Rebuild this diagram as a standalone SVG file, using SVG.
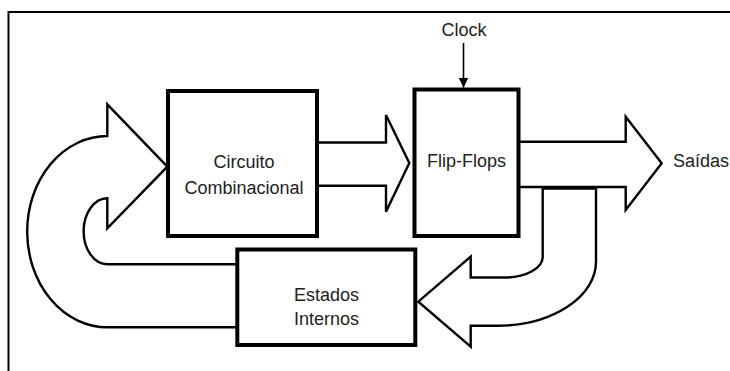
<svg xmlns="http://www.w3.org/2000/svg" width="730" height="371" viewBox="0 0 730 371">
<defs>
<style>
.frame{fill:none;stroke:#000;stroke-width:2}
.box{fill:#fff;stroke:#000;stroke-width:4}
.bus{fill:#fff;stroke:#000;stroke-width:2.4;stroke-linejoin:miter}
.lbl{font-family:"Liberation Sans",Arial,sans-serif;font-size:18px;fill:#222;text-anchor:middle}
.wire{stroke:#000;stroke-width:1.6;fill:none}
</style>
<marker id="ah" viewBox="0 0 10 10" refX="10" refY="5" markerWidth="10" markerHeight="10" markerUnits="userSpaceOnUse" orient="auto">
<path d="M0,0 L10,5 L0,10 Z" fill="#000"/>
</marker>
</defs>
<rect width="730" height="371" fill="#fff"/>
<path class="frame" d="M8.5,371 L8.5,12 L730,12"/>
<g id="connectors">
<path id="feedback-left" class="bus" d="M167.3,166.7 L107.3,104.3 L107.3,136 A80,95.5 0 0,0 107.3,327.3 L237.3,327.3 L237.3,264.3 L107.3,264.3 A23.7,33 0 0,1 107.3,198.3 L107.3,228.3 Z"/>
<path id="comb-to-ff" class="bus" d="M317,142.5 L386,142.5 L386,115 L409.3,163 L386,211.7 L386,185.7 L317,185.7 Z"/>
<path id="ff-to-out" class="bus" d="M518.7,141.7 L625.7,141.7 L625.7,116.7 L661.7,163.3 L625.7,210 L625.7,187 L518.7,187 Z"/>
<path id="feedback-right" class="bus" d="M542.7,188.6 L542.7,257 A38,20.5 0 0,1 504.7,277.5 L470.7,277.5 L470.7,256.7 L418.3,301.7 L470.7,346.7 L470.7,325.7 L497,325.7 A99,64 0 0,0 596,261.7 L596,188.6 Z"/>
<line id="clock-arrow" class="wire" x1="463.5" y1="43" x2="463.5" y2="87.5" marker-end="url(#ah)"/>
</g>
<g id="circuito">
<rect class="box" x="168" y="91" width="149" height="145"/>
<text class="lbl" x="244" y="168">Circuito</text>
<text class="lbl" x="244" y="194">Combinacional</text>
</g>
<g id="flipflops">
<rect class="box" x="414.5" y="89.5" width="104" height="146.5"/>
<text class="lbl" x="466.5" y="167">Flip-Flops</text>
</g>
<g id="estados">
<rect class="box" x="237.3" y="249.5" width="178" height="95.5"/>
<text class="lbl" x="326.5" y="301">Estados</text>
<text class="lbl" x="326.5" y="325">Internos</text>
</g>
<g id="clock">
<text class="lbl" x="464" y="36">Clock</text>
</g>
<g id="saidas">
<text class="lbl" x="673" y="167" style="text-anchor:start">Saídas</text>
</g>
</svg>
